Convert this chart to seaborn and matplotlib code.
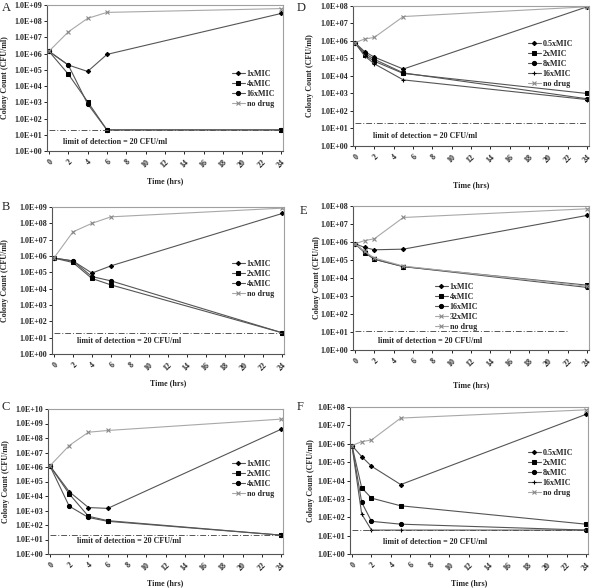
import math
import matplotlib
matplotlib.use("Agg")
import matplotlib.pyplot as plt
import seaborn as sns
import pandas as pd
from matplotlib.ticker import FixedLocator, FuncFormatter, NullLocator

# ---------------- data ----------------
time_ABC = [0, 2, 4, 6, 24]
time_DEF = [0, 1, 2, 5, 24]
x_ticks = list(range(0, 25, 2))

A_labels = ["1xMIC", "4xMIC", "16xMIC", "no drug"]
A_1x = [1.4e6, 2.0e5, 8.0e4, 9.0e5, 3.0e8]
A_4x = [1.4e6, 5.5e4, 1.1e3, 20, 20]
A_16x = [1.4e6, 2.0e5, 8.0e2, 20, 20]
A_nodrug = [1.4e6, 2.2e7, 1.5e8, 3.5e8, 6.0e8]

B_labels = ["1xMIC", "2xMIC", "4xMIC", "no drug"]
B_1x = [7.5e5, 5.0e5, 9.0e4, 2.5e5, 4.0e8]
B_2x = [7.5e5, 4.0e5, 4.2e4, 1.7e4, 20]
B_4x = [7.5e5, 5.0e5, 5.5e4, 3.0e4, 20]
B_nodrug = [7.5e5, 3.0e7, 1.0e8, 2.5e8, 8.5e8]

C_labels = ["1xMIC", "2xMIC", "4xMIC", "no drug"]
C_1x = [1.2e6, 2.0e4, 1.6e3, 1.4e3, 4.0e8]
C_2x = [1.2e6, 1.4e4, 4.0e2, 2.0e2, 20]
C_4x = [1.2e6, 2.0e3, 3.3e2, 1.8e2, 20]
C_nodrug = [1.2e6, 3.0e7, 2.5e8, 3.3e8, 2.0e9]

D_labels = ["0.5xMIC", "2xMIC", "8xMIC", "16xMIC", "no drug"]
D_05x = [8.0e5, 2.5e5, 1.2e5, 2.5e4, 9.0e7]
D_2x = [8.0e5, 1.6e5, 7.0e4, 1.4e4, 1.0e3]
D_8x = [8.0e5, 2.0e5, 9.0e4, 1.5e4, 5.0e2]
D_16x = [8.0e5, 1.4e5, 5.0e4, 6.0e3, 4.5e2]
D_nodrug = [8.0e5, 1.3e6, 1.6e6, 2.5e7, 9.0e7]

E_labels = ["1xMIC", "4xMIC", "16xMIC", "32xMIC", "no drug"]
E_1x = [8.0e5, 5.0e5, 3.7e5, 4.0e5, 3.0e7]
E_4x = [8.0e5, 2.6e5, 1.1e5, 4.3e4, 4.0e3]
E_16x = [8.0e5, 2.8e5, 1.1e5, 4.3e4, 3.0e3]
E_32x = [8.0e5, 3.0e5, 1.3e5, 4.6e4, 3.5e3]
E_nodrug = [8.0e5, 1.2e6, 1.5e6, 2.3e7, 7.0e7]

F_labels = ["0.5xMIC", "2xMIC", "8xMIC", "16xMIC", "no drug"]
F_05x = [8.0e5, 2.0e5, 6.0e4, 6.0e3, 4.0e7]
F_2x = [8.0e5, 4.0e3, 1.1e3, 4.2e2, 42]
F_8x = [8.0e5, 6.5e2, 60, 42, 20]
F_16x = [8.0e5, 1.5e2, 20, 20, 20]
F_nodrug = [8.0e5, 1.3e6, 1.6e6, 2.5e7, 7.0e7]

limit_value = 20
limit_value_E = 12
limit_text = "limit of detection = 20 CFU/ml"
ylabel_text = "Colony Count (CFU/ml)"
xlabel_text = "Time (hrs)"

# ---------------- style ----------------
sns.set_theme(style="white")
plt.rcParams["font.family"] = ["Liberation Serif", "DejaVu Serif"]
plt.rcParams["font.weight"] = "bold"

W, H = 592, 588
fig = plt.figure(figsize=(W / 100, H / 100), dpi=100)


def rect(x0, y0, x1, y1):
    return [x0 / W, 1 - y1 / H, (x1 - x0) / W, (y1 - y0) / H]


def fx(x):
    return x / W


def fy(y):
    return 1 - y / H


DARK = "#555555"
LIGHT = "#a8a8a8"
styles = {
    "diamond": dict(marker="D", markersize=2.2, color=DARK, markerfacecolor="black", markeredgecolor="black"),
    "square": dict(marker="s", markersize=3.1, color=DARK, markerfacecolor="black", markeredgecolor="black"),
    "circle": dict(marker="o", markersize=3.0, color=DARK, markerfacecolor="black", markeredgecolor="black"),
    "plus": dict(marker="+", markersize=3.5, color=DARK, markeredgecolor="black", markeredgewidth=0.8),
    "gray": dict(marker="x", markersize=3.0, color=LIGHT, markeredgecolor="#888888", markeredgewidth=0.8),
}

panels = [
    dict(letter="A", box=(47, 5, 283, 151), ymax=9, t=time_ABC,
         series=[A_1x, A_4x, A_16x, A_nodrug], labels=A_labels,
         st=["diamond", "square", "circle", "gray"],
         limit=(0, 24, limit_value), ltext=(63, 142),
         leg=(228, 66), letter_xy=(2, 8), ylab_x=5, xlab_y=181),
    dict(letter="B", box=(52, 207, 284, 354), ymax=9, t=time_ABC,
         series=[B_1x, B_2x, B_4x, B_nodrug], labels=B_labels,
         st=["diamond", "square", "circle", "gray"],
         limit=(0, 24, limit_value), ltext=(77, 341),
         leg=(228, 256), letter_xy=(2, 207), ylab_x=5, xlab_y=383),
    dict(letter="C", box=(48, 409, 283, 554), ymax=10, t=time_ABC,
         series=[C_1x, C_2x, C_4x, C_nodrug], labels=C_labels,
         st=["diamond", "square", "circle", "gray"],
         limit=(0, 24, limit_value), ltext=(77, 541),
         leg=(228, 456), letter_xy=(2, 407), ylab_x=6, xlab_y=583),
    dict(letter="D", box=(353, 6, 589, 146), ymax=8, t=time_DEF,
         series=[D_05x, D_2x, D_8x, D_16x, D_nodrug], labels=D_labels,
         st=["diamond", "square", "circle", "plus", "gray"],
         limit=(0, 24, limit_value), ltext=(373, 136),
         leg=(524, 36), letter_xy=(297, 8), ylab_x=310, xlab_y=185),
    dict(letter="E", box=(353, 206, 589, 350), ymax=8, t=time_DEF,
         series=[E_1x, E_4x, E_16x, E_32x, E_nodrug], labels=E_labels,
         st=["diamond", "square", "circle", "gray", "gray"],
         limit=(0, 22, limit_value_E), ltext=(378, 341),
         leg=(431, 279), letter_xy=(300, 211), ylab_x=317, xlab_y=385),
    dict(letter="F", box=(350, 407, 588, 554), ymax=8, t=time_DEF,
         series=[F_05x, F_2x, F_8x, F_16x, F_nodrug], labels=F_labels,
         st=["diamond", "square", "circle", "plus", "gray"],
         limit=(0, 24, limit_value), ltext=(383, 542),
         leg=(524, 445), letter_xy=(297, 407), ylab_x=311, xlab_y=583),
]

FS = 5.8
for p in panels:
    ax = fig.add_axes(rect(*p["box"]))
    for vals, lab, st in zip(p["series"], p["labels"], p["st"]):
        df = pd.DataFrame({"time": p["t"], "cfu": vals})
        sns.lineplot(data=df, x="time", y="cfu", ax=ax, label=lab, sort=False,
                     linewidth=0.8, **styles[st])
    x0, x1, lv = p["limit"]
    ax.plot([x0, x1], [lv, lv], color="#555555", linestyle=(0, (6, 2, 1, 2)), linewidth=0.7)
    ax.set_yscale("log")
    ax.set_ylim(1, 10 ** p["ymax"])
    ax.set_xlim(-0.2, 24.2)
    ax.yaxis.set_major_locator(FixedLocator([10 ** k for k in range(0, p["ymax"] + 1)]))
    ax.yaxis.set_minor_locator(NullLocator())
    ax.yaxis.set_major_formatter(FuncFormatter(lambda v, pos: "1.0E+%02d" % round(math.log10(v))))
    ax.set_xticks(x_ticks)
    ax.set_xticklabels([str(v) for v in x_ticks], rotation=45, ha="right", va="top",
                       rotation_mode="anchor", fontsize=FS, fontweight="bold")
    for lbl in ax.get_yticklabels():
        lbl.set_fontsize(FS)
        lbl.set_fontweight("bold")
    ax.tick_params(axis="both", which="major", length=2, width=0.6, pad=1.5, color="black",
                   bottom=True, left=True)
    ax.tick_params(axis="x", pad=3)
    ax.set_xlabel("")
    ax.set_ylabel("")
    for s in ["top", "right"]:
        ax.spines[s].set_color("#a0a0a0")
        ax.spines[s].set_linewidth(0.8)
    for s in ["left", "bottom"]:
        ax.spines[s].set_color("#555555")
        ax.spines[s].set_linewidth(0.8)
    ax.grid(False)
    lg = ax.legend(loc="upper left", bbox_to_anchor=(fx(p["leg"][0]), fy(p["leg"][1])),
                   bbox_transform=fig.transFigure, frameon=False, fontsize=FS,
                   handlelength=1.6, handletextpad=0.2, labelspacing=0.25, borderpad=0)
    for t in lg.get_texts():
        t.set_fontweight("bold")
    fig.text(fx(p["ltext"][0]), fy(p["ltext"][1]), limit_text, fontsize=FS, fontweight="bold",
             ha="left", va="center")
    fig.text(fx(p["letter_xy"][0]), fy(p["letter_xy"][1]), p["letter"], fontsize=9,
             fontweight="normal", ha="left", va="center")
    cy = (p["box"][1] + p["box"][3]) / 2
    fig.text(fx(p["ylab_x"]), fy(cy), ylabel_text, rotation=90, fontsize=FS, fontweight="bold",
             ha="center", va="center")
    cx = (p["box"][0] + p["box"][2]) / 2
    fig.text(fx(cx), fy(p["xlab_y"]), xlabel_text, fontsize=FS, fontweight="bold",
             ha="center", va="center")

fig.savefig("out.png", dpi=100, facecolor="white")
